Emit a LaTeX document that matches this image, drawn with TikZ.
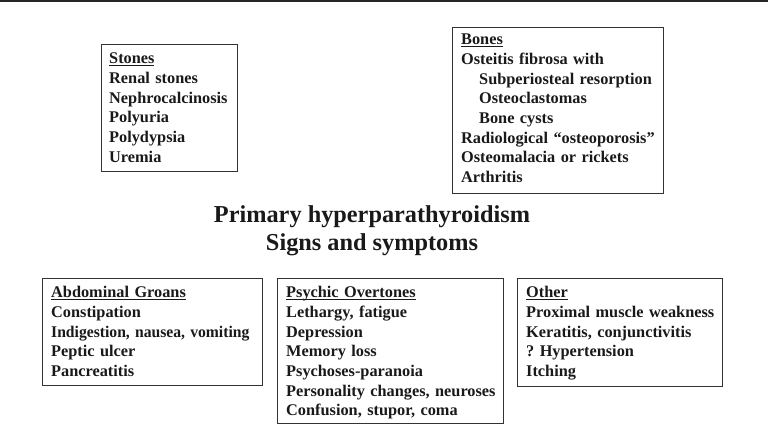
\documentclass[tikz,border=0pt]{standalone}
\usepackage{fontspec}
\usepackage{graphicx}
\setmainfont{Liberation Serif}
\frenchspacing
\newcommand\hdrul[1]{\setbox0\hbox{#1}\rlap{\rule[-2.2pt]{\wd0}{0.9pt}}\box0}
\tikzset{
  box/.style={draw=black!80, line width=0.9pt, rectangle, inner sep=0pt, anchor=north west},
  txt/.style={anchor=base west, inner sep=0pt, align=left, text=black!90,
    font=\fontsize{16.3}{19.65}\selectfont\bfseries\frenchspacing},
  ttl/.style={anchor=base, inner sep=0pt, text=black!90,
    font=\fontsize{24.3}{28}\selectfont\bfseries}
}
\begin{document}
\begin{tikzpicture}[x=1pt,y=-1pt]
\useasboundingbox (0,0) rectangle (768,427);
\coordinate (tl) at (0,1.2);
\coordinate (tr) at (768,1.2);
\draw[line width=1.6pt, black!85] (tl) -- (tr);

% boxes
\node[box, minimum width=136pt, minimum height=127pt] (stones) at (101,44) {};
\node[box, minimum width=211pt, minimum height=166pt] (bones) at (452,27) {};
\node[box, minimum width=220pt, minimum height=107pt] (abd) at (42,278) {};
\node[box, minimum width=226pt, minimum height=145pt] (psy) at (277,278) {};
\node[box, minimum width=205pt, minimum height=108pt] (oth) at (517,278) {};

% contents
\node[txt, text width=125pt] (stonesT) at (109,64) {\hdrul{Stones}\\Renal stones\\Nephrocalcinosis\\Polyuria\\Polydypsia\\Uremia};
\node[txt, text width=200pt] (bonesT) at (461,45) {\hdrul{Bones}\\Osteitis fibrosa with\\\hspace*{18pt}Subperiosteal resorption\\\hspace*{18pt}Osteoclastomas\\\hspace*{18pt}Bone cysts\\Radiological ``osteoporosis''\\Osteomalacia or rickets\\Arthritis};
\node[txt, text width=210pt] (abdT) at (51,298) {\hdrul{Abdominal Groans}\\Constipation\\\scalebox{0.96}[1]{Indigestion, nausea, vomiting}\\Peptic ulcer\\Pancreatitis};
\node[txt, text width=216pt] (psyT) at (286,298) {\hdrul{Psychic Overtones}\\Lethargy, fatigue\\Depression\\Memory loss\\Psychoses-paranoia\\Personality changes, neuroses\\Confusion, stupor, coma};
\node[txt, text width=196pt] (othT) at (526,298) {\hdrul{Other}\\Proximal muscle weakness\\Keratitis, conjunctivitis\\? Hypertension\\Itching};

% title
\node[ttl] (title1) at (372,223) {Primary hyperparathyroidism};
\node[ttl] (title2) at (372,251) {Signs and symptoms};
\end{tikzpicture}
\end{document}
